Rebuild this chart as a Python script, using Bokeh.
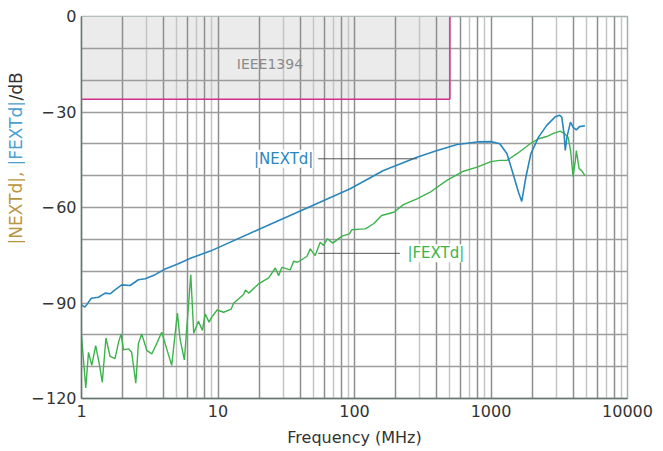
import math
from bokeh.plotting import figure
from bokeh.layouts import row
from bokeh.models import (BoxAnnotation, Label, FixedTicker, Grid, PrintfTickFormatter, Range1d)
from bokeh.embed import file_html
from bokeh.resources import INLINE

# ---- data ----
next_freq = [1.0, 1.06, 1.18, 1.33, 1.49, 1.62, 1.76, 1.97, 2.27, 2.61, 2.93, 3.46, 4.10, 5.12,
             6.42, 8.78, 20.4, 47.5, 93, 163, 287, 403, 565, 791, 1000, 1160, 1310, 1450,
             1590, 1680, 1800, 1960, 2230, 2560, 2940, 3170, 3300, 3430, 3500, 3600, 3820,
             4000, 4220, 4450, 4880]
next_db = [-90.6, -91.3, -88.5, -88.2, -86.9, -87.1, -85.9, -84.3, -84.5, -82.7, -82.4, -81.1,
           -79.3, -77.7, -75.8, -73.7, -66.7, -59.7, -54.1, -48.4, -44.2, -42.1, -40.2, -39.4,
           -39.3, -40.0, -43.1, -49.4, -55.2, -58.1, -50.5, -43.1, -37.9, -34.2, -31.6, -31.0,
           -31.6, -36.9, -42.1, -37.9, -33.2, -34.8, -35.6, -34.6, -34.3]

fext_freq = [1.0, 1.075, 1.125, 1.19, 1.27, 1.35, 1.42, 1.51, 1.62, 1.76, 1.87, 1.95, 2.03,
             2.21, 2.33, 2.50, 2.61, 2.76, 3.01, 3.27, 3.50, 3.87, 4.21, 4.58, 5.04, 5.27,
             5.67, 6.32, 6.64, 7.18, 7.69, 8.05, 8.6, 8.98, 9.85, 11.0, 12.5, 13.0, 15.4,
             15.9, 16.8, 19.8, 23.5, 26.3, 27.8, 29.4, 33.8, 35.8, 38.2, 44.8, 47.4, 51.5,
             56.1, 59.3, 63.4, 69.3, 80.9, 91.8, 95.5, 110, 120, 138, 158, 194, 228, 287,
             358, 475, 628, 791, 1000, 1160, 1310, 1550, 1960, 2230, 2560, 2870, 3210, 3480,
             3670, 3830, 3990, 4150, 4220, 4420, 4610, 4880]
fext_db = [-100.2, -116.7, -105.5, -109.6, -103.4, -109.1, -114.9, -101.0, -106.8, -107.5,
           -102.3, -99.7, -104.7, -104.4, -105.5, -115.2, -102.8, -99.7, -104.9, -106.0,
           -103.4, -99.2, -104.4, -109.6, -93.2, -101.3, -107.9, -81.1, -99.5, -95.7, -98.6,
           -93.4, -96.0, -94.5, -92.2, -92.9, -91.9, -90.1, -87.3, -85.9, -86.9, -84.0,
           -82.1, -79.0, -81.4, -78.8, -79.6, -76.9, -77.2, -75.4, -73.0, -75.1, -70.9,
           -71.9, -69.8, -71.2, -69.0, -68.3, -67.0, -66.8, -66.7, -65.1, -62.5, -61.5,
           -59.1, -57.3, -55.2, -51.5, -48.6, -47.3, -45.6, -45.2, -45.2, -43.1, -39.8,
           -38.4, -37.7, -36.7, -36.0, -36.9, -37.9, -42.1, -50.3, -45.2, -42.1, -47.8,
           -48.4, -50.0]

x_ticks = [1, 10, 100, 1000, 10000]
y_ticks = [0, -30, -60, -90, -120]
y_tick_labels = {0: "0", -30: "\u2212\u200a30", -60: "\u2212\u200a60", -90: "\u2212\u200a90",
                 -120: "\u2212\u200a120"}
ieee_limit_freq = 500
ieee_limit_db = -26
y_title_parts = ["|NEXTd|, ", "|FEXTd|", "/dB"]

FONT = "DejaVu Sans"
BLUE = "#2a87bd"
GREEN = "#3cb44b"
MAGENTA = "#d42f8c"
GOLD = "#b9963f"
LBLUE = "#4aa0d2"
TITLE_W = 25

p = figure(width=663 - TITLE_W, height=451, x_axis_type="log", output_backend="svg",
           toolbar_location=None, x_range=Range1d(1, 10000), y_range=Range1d(-120, 0),
           min_border_left=81 - TITLE_W, min_border_right=36, min_border_top=16,
           min_border_bottom=53)
p.background_fill_color = "white"
p.border_fill_color = "white"
p.outline_line_color = "#a3b1ac"
p.outline_line_width = 1.5

# grids
p.xgrid.visible = False
p.ygrid.visible = False
dark_x, light_x = [], []
for dec in [1, 10, 100, 1000]:
    for m in range(1, 10):
        v = m * dec
        if v == 1:
            continue
        (dark_x if m % 2 == 0 or m == 1 else light_x).append(v)
dark_x.append(10000)
p.add_layout(Grid(dimension=0, ticker=FixedTicker(ticks=light_x), grid_line_color="#c4c4c4",
                  grid_line_width=1.5))
p.add_layout(Grid(dimension=0, ticker=FixedTicker(ticks=dark_x), grid_line_color="#8e8e8e",
                  grid_line_width=1.5))
p.add_layout(Grid(dimension=1, ticker=FixedTicker(ticks=list(range(-110, 0, 10))),
                  grid_line_color="#9c9c9c", grid_line_width=1.5))

# IEEE1394 region
p.add_layout(BoxAnnotation(left=1, right=ieee_limit_freq, bottom=ieee_limit_db, top=0,
                           fill_color="#ebebeb", fill_alpha=1.0, line_color=None, level="image"))
p.segment(x0=[1, ieee_limit_freq], y0=[ieee_limit_db, ieee_limit_db],
          x1=[ieee_limit_freq, ieee_limit_freq], y1=[ieee_limit_db, 0],
          line_color=MAGENTA, line_width=1.5)
p.add_layout(Label(x=24, y=-14.8, text="IEEE1394", text_font=FONT,
                   text_font_size="14px", text_color="#8a8a8a", text_align="center",
                   text_baseline="middle"))

# curves
p.line(fext_freq, fext_db, line_color=GREEN, line_width=1.4)
p.line(next_freq, next_db, line_color=BLUE, line_width=1.6)

# annotations
p.segment(x0=[54.2, 54.2], y0=[-44.7, -74.4], x1=[288, 215], y1=[-44.7, -74.4],
          line_color="#555555", line_width=1)
p.add_layout(Label(x=50, y=-44.7, text="|NEXTd|", text_font=FONT, text_font_size="15px",
                   text_color=BLUE, text_align="right", text_baseline="middle",
                   background_fill_color="white", background_fill_alpha=1.0))
p.add_layout(Label(x=244, y=-74.4, text="|FEXTd|", text_font=FONT, text_font_size="15px",
                   text_color=GREEN, text_align="left", text_baseline="middle",
                   background_fill_color="white", background_fill_alpha=1.0))

# axes
for ax in (p.xaxis[0], p.yaxis[0]):
    ax.axis_line_color = "#66756f"
    ax.axis_line_width = 1.5
    ax.major_tick_line_color = None
    ax.minor_tick_line_color = None
    ax.major_tick_out = 0
    ax.major_tick_in = 0
    ax.minor_tick_out = 0
    ax.minor_tick_in = 0
    ax.major_label_text_font = FONT
    ax.major_label_text_font_size = "16px"
    ax.major_label_text_color = "#333333"

p.xaxis.ticker = FixedTicker(ticks=x_ticks)
p.xaxis.formatter = PrintfTickFormatter(format="%d")
p.xaxis.major_label_standoff = 6
p.xaxis.axis_label = "Frequency (MHz)"
p.xaxis.axis_label_text_font = FONT
p.xaxis.axis_label_text_font_size = "16px"
p.xaxis.axis_label_text_font_style = "normal"
p.xaxis.axis_label_text_color = "#333333"
p.xaxis.axis_label_standoff = 8

p.yaxis.ticker = FixedTicker(ticks=y_ticks)
p.yaxis.major_label_overrides = y_tick_labels
p.yaxis.major_label_standoff = 5

# y-axis title in three colours, drawn in a narrow side panel figure
pt = figure(width=TITLE_W, height=451, output_backend="svg", toolbar_location=None,
            x_axis_location=None, y_axis_location=None, min_border=0,
            x_range=Range1d(0, 1), y_range=Range1d(0, 1))
pt.xgrid.visible = False
pt.ygrid.visible = False
pt.outline_line_color = None
pt.background_fill_color = "white"
pt.border_fill_color = "white"
title_colors = [GOLD, LBLUE, "#333333"]
title_starts = [154, 233, 298]   # px from bottom of the panel
for txt, ys, col in zip(y_title_parts, title_starts, title_colors):
    pt.add_layout(Label(x=15, y=ys, x_units="screen", y_units="screen", text=txt,
                        angle=math.pi / 2, text_font=FONT,
                        text_font_size="17px", text_color=col, text_align="left",
                        text_baseline="middle"))

layout = row(pt, p, spacing=0)
open("out.html", "w").write(file_html(layout, INLINE))
